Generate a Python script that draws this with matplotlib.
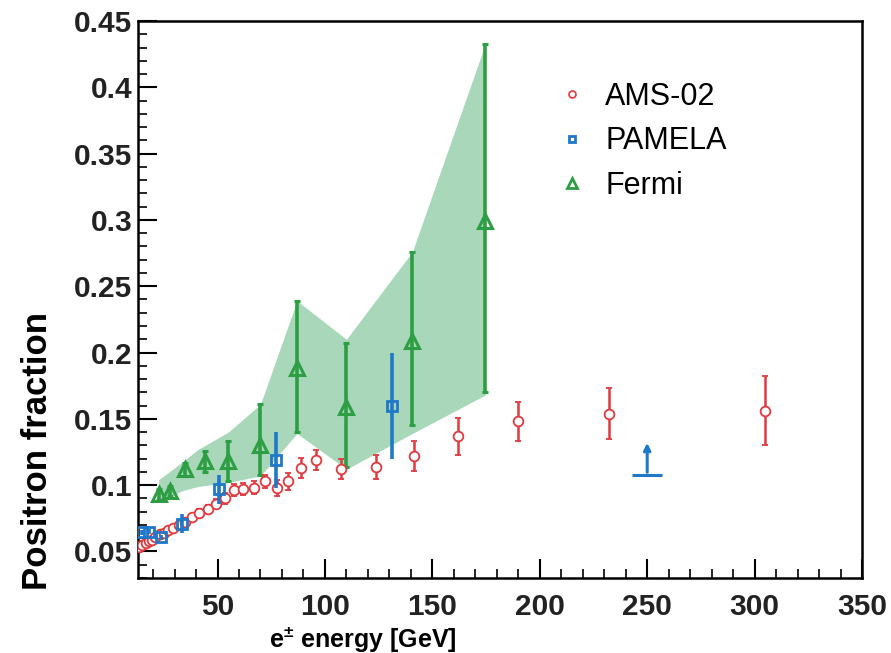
import matplotlib
matplotlib.use("Agg")
import matplotlib.pyplot as plt
from matplotlib.lines import Line2D
from matplotlib.ticker import MultipleLocator

plt.rcParams['font.family'] = ['Liberation Sans', 'DejaVu Sans']
plt.rcParams['mathtext.fontset'] = 'custom'
plt.rcParams['mathtext.bf'] = 'Liberation Sans:bold'
plt.rcParams['mathtext.rm'] = 'Liberation Sans:bold'

# AMS-02 positron fraction
ams_e = [13.5, 15, 16.5, 18, 19.5, 21, 23, 25, 27, 29.5, 32, 35, 38, 41.5, 45.5, 49.5,
         53.5, 57.5, 62, 67, 72, 77.5, 83, 89, 96, 107.5, 124, 141.5, 162, 190, 232, 305]
ams_v = [0.053, 0.055, 0.056, 0.058, 0.059, 0.061, 0.063, 0.064, 0.066, 0.068, 0.070, 0.072,
         0.076, 0.079, 0.082, 0.086, 0.090, 0.096, 0.097, 0.098, 0.103, 0.098, 0.103, 0.113,
         0.119, 0.112, 0.114, 0.122, 0.137, 0.148, 0.154, 0.156]
ams_err = [0.001, 0.001, 0.001, 0.001, 0.001, 0.001, 0.0015, 0.0015, 0.0015, 0.002, 0.002, 0.002,
           0.0025, 0.003, 0.003, 0.0035, 0.004, 0.0045, 0.0045, 0.005, 0.005, 0.006, 0.0065, 0.0075,
           0.0076, 0.0076, 0.009, 0.011, 0.014, 0.015, 0.019, 0.026]

# PAMELA
pam_e = [15, 18, 23.5, 33.7, 50.5, 77.4, 131.4]
pam_v = [0.0644, 0.065, 0.0606, 0.071, 0.097, 0.119, 0.160]
pam_err = [0.002, 0.002, 0.002, 0.007, 0.011, 0.021, 0.040]
# PAMELA lower limit at 250 GeV
lim_e = 250
lim_v = 0.1076
lim_top = 0.134
lim_halfwidth = 7

# Fermi
fermi_e = [22.6, 28, 35, 44, 55, 70, 87, 110, 140.7, 174.7]
fermi_v = [0.093, 0.0955, 0.112, 0.118, 0.118, 0.130, 0.188, 0.159, 0.209, 0.299]
fermi_lo = [0.004, 0.004, 0.005, 0.008, 0.015, 0.022, 0.048, 0.045, 0.064, 0.129]
fermi_hi = [0.004, 0.004, 0.005, 0.008, 0.015, 0.031, 0.051, 0.048, 0.067, 0.134]

# Fermi systematic band
band_e = [22.6, 34, 41, 55, 70, 87, 110, 140.7, 174.7]
band_lo = [0.088, 0.096, 0.099, 0.102, 0.107, 0.139, 0.112, 0.139, 0.168]
band_hi = [0.104, 0.118, 0.127, 0.140, 0.161, 0.239, 0.210, 0.276, 0.433]

red = '#e0393e'
blue = '#1f78c8'
green = '#2e9e44'

fig = plt.figure(figsize=(8.91, 6.53), dpi=100)
ax = fig.add_axes([0.1549, 0.1149, 0.8126, 0.8529])

ax.fill_between(band_e, band_lo, band_hi, color='#a8d8b9', lw=0, zorder=1)

ax.errorbar(fermi_e, fermi_v, yerr=[fermi_lo, fermi_hi], fmt='^', color=green, mfc='none',
            mec=green, ms=10.5, mew=2.2, elinewidth=2.6, capsize=2.5, capthick=2, zorder=3)
ax.errorbar(ams_e, ams_v, yerr=ams_err, fmt='o', color=red, mfc='white', mec=red,
            ms=7, mew=1.3, elinewidth=1.8, capsize=2.5, capthick=1.5, zorder=4)
ax.errorbar(pam_e, pam_v, yerr=pam_err, fmt='s', color=blue, mfc='none', mec=blue,
            ms=7, mew=2, elinewidth=2.6, capsize=0, zorder=5)
ax.hlines(lim_v, lim_e - lim_halfwidth, lim_e + lim_halfwidth, color=blue, lw=2.2, zorder=5)
ax.annotate('', xy=(lim_e, lim_top), xytext=(lim_e, lim_v),
            arrowprops=dict(arrowstyle='-|>', color=blue, lw=2.2, mutation_scale=10), zorder=5)

ax.set_xlim(13, 350)
ax.set_ylim(0.03, 0.45)
ax.xaxis.set_major_locator(MultipleLocator(50))
ax.xaxis.set_minor_locator(MultipleLocator(10))
ax.yaxis.set_minor_locator(MultipleLocator(0.01))
ax.set_yticks([0.05, 0.1, 0.15, 0.2, 0.25, 0.3, 0.35, 0.4, 0.45])
ax.set_yticklabels(['0.05', '0.1', '0.15', '0.2', '0.25', '0.3', '0.35', '0.4', '0.45'])
ax.tick_params(which='major', direction='in', length=14, width=1.5)
ax.tick_params(which='minor', direction='in', length=6.5, width=1.2)
ax.tick_params(axis='x', which='major', pad=11)
ax.tick_params(axis='y', which='major', pad=4)
for lab in ax.get_xticklabels() + ax.get_yticklabels():
    lab.set_fontsize(21.5)
    lab.set_fontweight('bold')
    lab.set_color('#222222')
for sp in ax.spines.values():
    sp.set_linewidth(1.8)

fig.text(0.042, 0.31, 'Positron fraction', rotation=90, fontsize=25, fontweight='bold',
         ha='center', va='center')
fig.text(0.407, 0.022, r'e$^{\pm}$ energy [GeV]', fontsize=18, fontweight='bold',
         ha='center', va='center')

handles = [
    Line2D([], [], ls='none', marker='o', mfc='white', mec=red, ms=5, mew=1.2),
    Line2D([], [], ls='none', marker='s', mfc='white', mec=blue, ms=5, mew=2),
    Line2D([], [], ls='none', marker='^', mfc='white', mec=green, ms=7, mew=2),
]
ax.legend(handles, ['AMS-02', 'PAMELA', 'Fermi'], loc='upper left',
          bbox_to_anchor=(0.54, 0.94), frameon=False, fontsize=22,
          handlelength=1.0, handletextpad=0.6, labelspacing=0.47)

fig.savefig('out.png', dpi=100)
